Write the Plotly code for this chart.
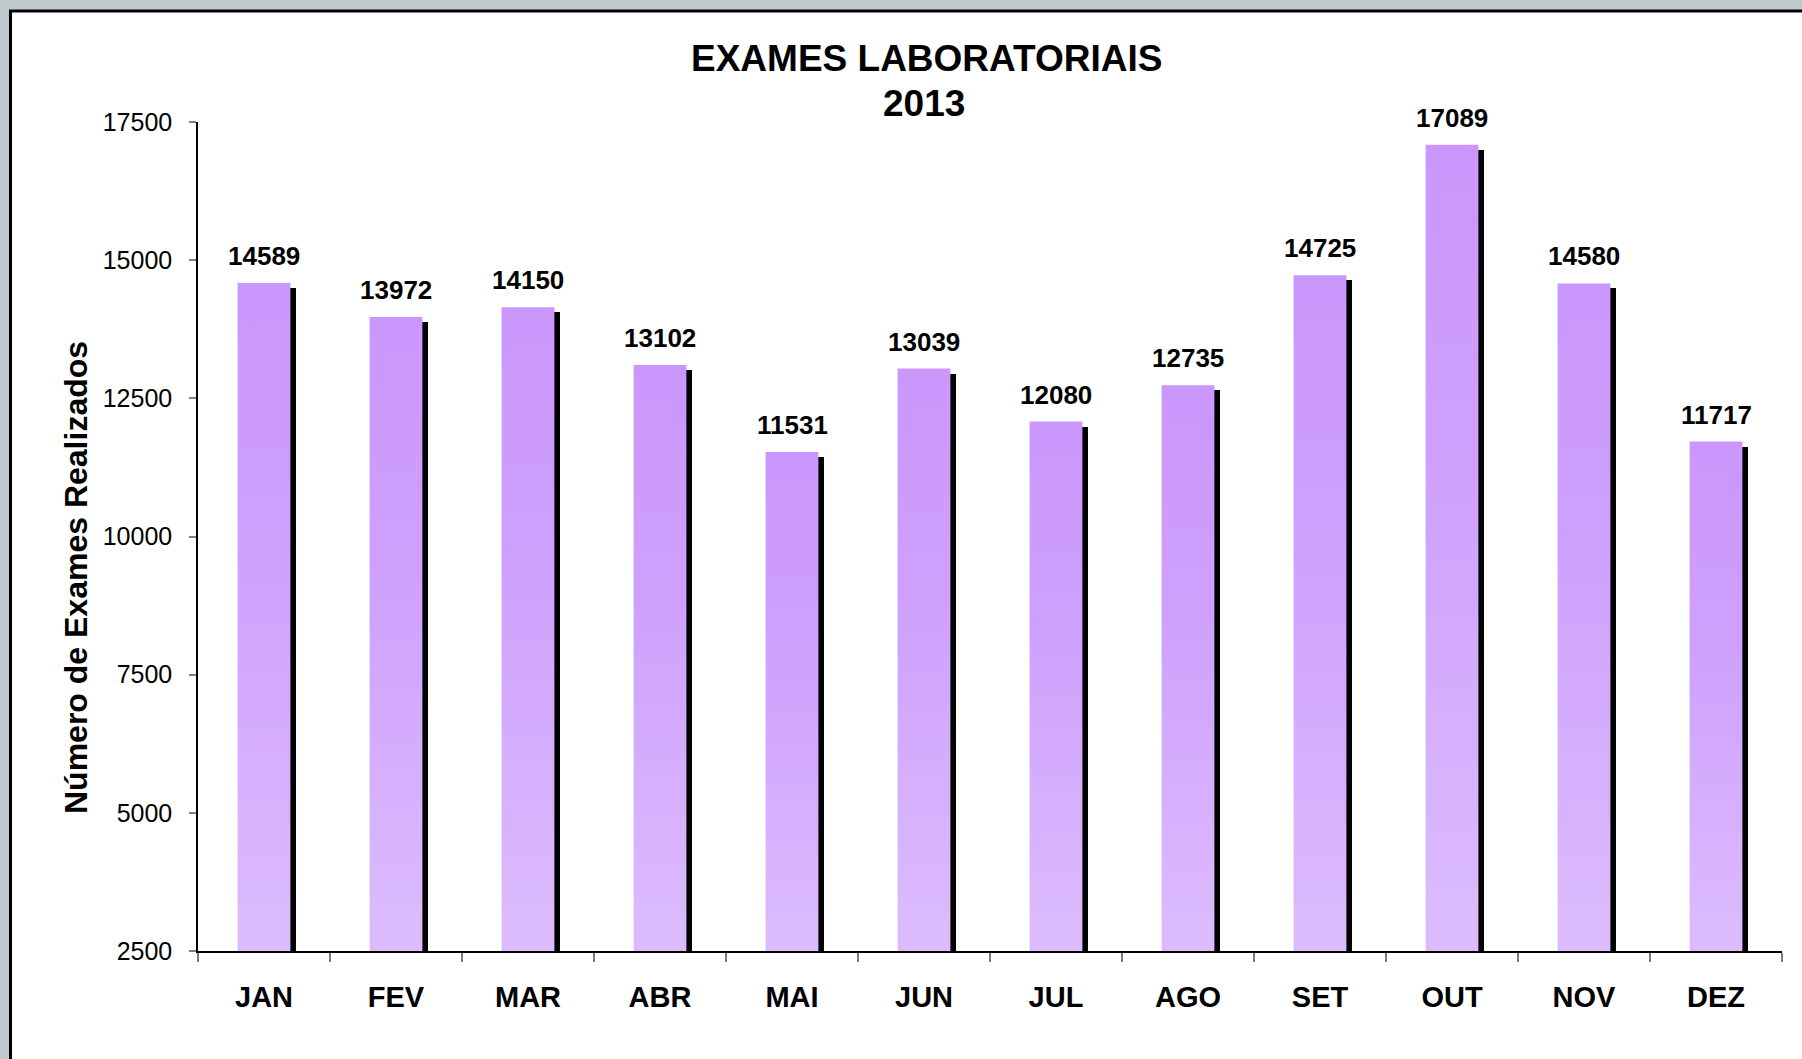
import plotly.graph_objects as go

months = ["JAN", "FEV", "MAR", "ABR", "MAI", "JUN", "JUL", "AGO", "SET", "OUT", "NOV", "DEZ"]
exams = [14589, 13972, 14150, 13102, 11531, 13039, 12080, 12735, 14725, 17089, 14580, 11717]
y_ticks = [2500, 5000, 7500, 10000, 12500, 15000, 17500]
title_line1 = "EXAMES LABORATORIAIS"
title_line2 = "2013"
y_title = "Número de Exames Realizados"

W, H = 1802, 1059
L, R, T, B = 198, 20, 122, 108
PW, PH = W - L - R, H - T - B
FONT = "Liberation Sans, Arial, Helvetica, sans-serif"

ymin, ymax = y_ticks[0], y_ticks[-1]
half = 0.2
shadow_dx = 0.045
shadow_dy = 90


def px_to_paper_x(px):
    return (px - L) / PW


def px_to_paper_y(py):
    return (H - B - py) / PH


fig = go.Figure()

# shadow bars
fig.add_trace(go.Bar(
    x=list(range(len(exams))),
    y=[v - shadow_dy - ymin for v in exams],
    base=ymin,
    width=2 * half,
    offset=-half + shadow_dx,
    marker=dict(color="black", line=dict(width=0)),
    hoverinfo="skip",
    showlegend=False,
))

# main bars with vertical gradient
for i, v in enumerate(exams):
    fig.add_trace(go.Scatter(
        x=[i - half, i + half, i + half, i - half, i - half],
        y=[ymin, ymin, v, v, ymin],
        mode="lines",
        line=dict(width=0, color="rgba(0,0,0,0)"),
        fill="toself",
        fillcolor="#d2aafc",
        fillgradient=dict(type="vertical",
                          colorscale=[[0, "#dcbcfd"], [0.6, "#cea0fc"], [1, "#ca97fc"]]),
        hoverinfo="skip",
        showlegend=False,
    ))

annotations = []
for i, v in enumerate(exams):
    annotations.append(dict(
        x=i, y=v, xref="x", yref="y", text=str(v), showarrow=False,
        yanchor="bottom", yshift=10,
        font=dict(family=FONT, size=26, color="black", weight="bold"),
    ))

annotations.append(dict(
    x=px_to_paper_x(926), y=px_to_paper_y(59), xref="paper", yref="paper",
    text=title_line1, showarrow=False, xanchor="center", yanchor="middle",
    font=dict(family=FONT, size=37, color="black", weight="bold"),
))
annotations.append(dict(
    x=px_to_paper_x(924), y=px_to_paper_y(103), xref="paper", yref="paper",
    text=title_line2, showarrow=False, xanchor="center", yanchor="middle",
    font=dict(family=FONT, size=37, color="black", weight="bold"),
))
annotations.append(dict(
    x=px_to_paper_x(76), y=px_to_paper_y(578), xref="paper", yref="paper",
    text=y_title, showarrow=False, xanchor="center", yanchor="middle", textangle=-90,
    font=dict(family=FONT, size=32, color="black", weight="bold"),
))

shapes = [dict(
    type="rect", xref="paper", yref="paper", layer="below",
    x0=px_to_paper_x(10.5), x1=px_to_paper_x(1840),
    y0=px_to_paper_y(1090), y1=px_to_paper_y(11),
    fillcolor="white", line=dict(color="black", width=3),
)]

fig.update_layout(
    width=W, height=H, autosize=False,
    margin=dict(l=L, r=R, t=T, b=B, pad=0),
    paper_bgcolor="#bfcacd",
    plot_bgcolor="rgba(0,0,0,0)",
    showlegend=False,
    shapes=shapes,
    annotations=annotations,
    bargap=0,
    xaxis=dict(
        range=[-0.5, len(months) - 0.5],
        tickmode="array", tickvals=list(range(len(months))), ticktext=months,
        ticks="outside", ticklen=19, tickcolor="rgba(0,0,0,0)",
        minor=dict(tickmode="array", tickvals=[i - 0.5 for i in range(len(months) + 1)],
                   ticks="outside", ticklen=9, tickcolor="#7f7f7f", tickwidth=1.5),
        tickfont=dict(family=FONT, size=29, color="black", weight="bold"),
        showline=True, linecolor="black", linewidth=1.5,
        showgrid=False, zeroline=False, fixedrange=True,
    ),
    yaxis=dict(
        range=[ymin, ymax],
        tickmode="array", tickvals=y_ticks, ticktext=[str(t) for t in y_ticks],
        ticks="outside", ticklen=7, tickcolor="#7f7f7f", tickwidth=1.5,
        ticklabelstandoff=12,
        tickfont=dict(family=FONT, size=25, color="black"),
        showline=True, linecolor="black", linewidth=1.5,
        showgrid=False, zeroline=False, fixedrange=True,
    ),
)

fig.write_html(
    "out.html",
    config={"displayModeBar": False},
    post_script="document.body.style.margin='0';document.body.style.overflow='hidden';"
                "document.body.style.background='#bfcacd';",
)
